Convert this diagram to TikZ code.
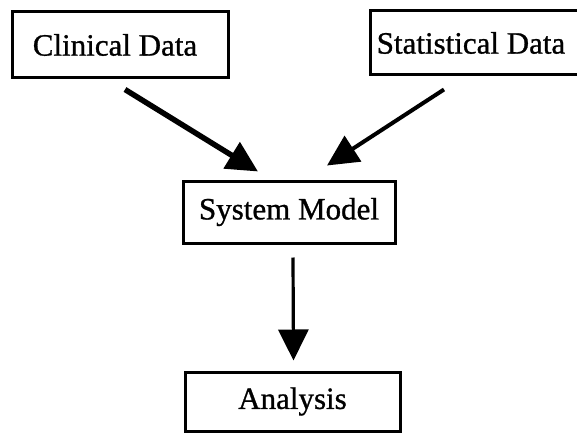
\documentclass[tikz,border=0pt]{standalone}
\usepackage{fontspec}
\setmainfont{Liberation Serif}
\newfontfamily\inkfont{Liberation Serif}[FakeBold=0.9]
\usetikzlibrary{arrows.meta,calc}
\tikzset{
  box/.style={draw, line width=3pt, inner sep=0pt, font=\inkfont\fontsize{31}{36}\selectfont},
  arr/.style={-{Triangle[length=31pt,width=30pt]}, line width=#1},
  arr/.default=4pt
}
\begin{document}
\begin{tikzpicture}[x=1pt,y=-1pt]
  \useasboundingbox (0,0) rectangle (577,433);
  \fill[white] (0,0) rectangle (577,433);
  \begin{scope}
    \clip (0,0) rectangle (577,433);
    % source boxes
    \node[box, minimum width=216pt, minimum height=66pt] (clin) at (120,45) {\hspace*{-10pt}Clinical Data};
    \node[box, minimum width=210pt, minimum height=64pt] (stat) at (475,43) {\hspace*{-8pt}Statistical Data};
    % model and result boxes
    \node[box, minimum width=212pt, minimum height=62pt] (sys) at (289,212) {System Model};
    \node[box, minimum width=215pt, minimum height=59pt] (ana) at (292.5,401.5) {Analysis};
  \end{scope}
  % connectors
  \coordinate (c1) at ($(clin.south)+(5,10)$);
  \coordinate (c2) at ($(sys.north)+(-31,-8)$);
  \coordinate (s1) at ($(stat.south)+(-31,13)$);
  \coordinate (s2) at ($(sys.north)+(38,-14)$);
  \coordinate (m1) at ($(sys.south)+(4,13)$);
  \coordinate (m2) at ($(ana.north)+(1,-10)$);
  \draw[arr=5.5pt] (c1) -- (c2);
  \draw[arr=4pt] (s1) -- (s2);
  \draw[arr=3.2pt] (m1) -- (m2);
\end{tikzpicture}
\end{document}
